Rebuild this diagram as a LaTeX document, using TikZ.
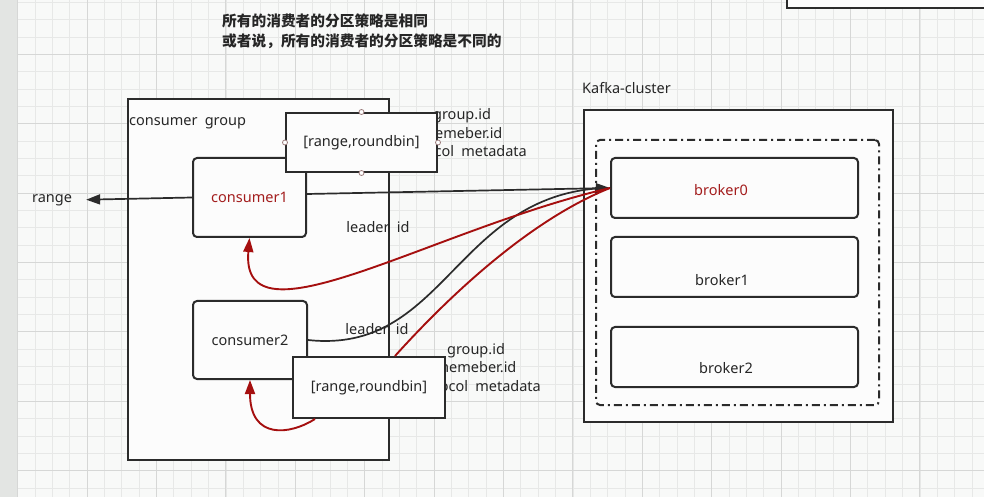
\documentclass[tikz,border=0pt]{standalone}
\usepackage{fontspec}
\setmainfont{Noto Sans}
\newfontfamily\cjk{Noto Sans CJK SC}
\usetikzlibrary{arrows.meta,calc}
\definecolor{bgc}{HTML}{F8F9F8}
\definecolor{bandc}{HTML}{E3E5E3}
\definecolor{gridminor}{HTML}{E7E8E7}
\definecolor{gridmajor}{HTML}{D6D7D6}
\definecolor{boxfill}{HTML}{FCFCFC}
\definecolor{linec}{HTML}{2B2B2B}
\definecolor{txt}{HTML}{262626}
\definecolor{darkred}{HTML}{A31D1D}
\definecolor{redline}{HTML}{A50F0F}
\definecolor{handlec}{HTML}{9B7B7B}
\newcommand{\wgap}{\hspace{0.5em}}
\begin{document}
\begin{tikzpicture}[x=1bp,y=-1bp,
  every node/.style={font=\fontsize{14.5bp}{18.5bp}\selectfont, text=txt},
  frame/.style={draw=linec, line width=2bp, fill=boxfill, inner sep=0pt},
  rbox/.style={frame, rounded corners=4bp},
  ddbox/.style={draw=linec, line width=2bp, rounded corners=4bp, inner sep=0pt,
    dash pattern=on 8bp off 4bp on 2bp off 4bp},
  lbl/.style={inner sep=0pt},
  handle/.style={circle, draw=handlec, fill=white, line width=0.8bp, minimum size=5bp, inner sep=0pt},
  minor/.style={draw=gridminor, line width=0.6bp},
  major/.style={draw=gridmajor, line width=0.7bp},
  blk/.style={draw=linec, line width=1.7bp},
  red/.style={draw=redline, line width=1.9bp},
  btip/.style={-{Triangle[length=14bp,width=10bp]}},
  rtip/.style={-{Triangle[length=14bp,width=10bp]}}
]
\useasboundingbox (0,0) rectangle (984,497);
% background
\fill[bgc] (0,0) rectangle (984,497);
\foreach \i in {0,...,54} \draw[minor] ({34.95+17.35*\i},0) -- ++(0,497);
\foreach \j in {0,...,28} \draw[minor] (17,{2.15+17.35*\j}) -- (984,{2.15+17.35*\j});
\foreach \i in {0,...,13} \draw[major] ({17.6+69.4*\i},0) -- ++(0,497);
\foreach \j in {0,...,6} \draw[major] (17,{54.2+69.4*\j}) -- (984,{54.2+69.4*\j});
\fill[bandc] (0,0) rectangle (17,497);

% partial box at top right
\node[frame, minimum width=208bp, minimum height=18bp] (tr) at (891,-1) {};

% Chinese heading
\node[lbl, anchor=west, font=\cjk\bfseries\fontsize{14.7bp}{17bp}\selectfont, text=black!85] (h1) at (222,21) {所有的消费者的分区策略是相同};
\node[lbl, anchor=west, font=\cjk\bfseries\fontsize{14.7bp}{17bp}\selectfont, text=black!85] (h2) at (222,41) {或者说，所有的消费者的分区策略是不同的};

% containers
\node[frame, minimum width=261bp, minimum height=361bp] (grp) at (258.5,279.5) {};
\node[lbl, anchor=west] (lgrp) at (129,123) {consumer\wgap group};
\node[frame, minimum width=309bp, minimum height=312bp] (kc) at (738.5,266) {};
\node[lbl, anchor=west] (lkc) at (582,88) {Kafka-cluster};
\node[ddbox, minimum width=283bp, minimum height=265bp] (dd) at (737.5,272.5) {};

% brokers
\node[rbox, minimum width=247bp, minimum height=60bp] (b0) at (734.5,188) {};
\node[rbox, minimum width=247bp, minimum height=60bp] (b1) at (734.5,267) {};
\node[rbox, minimum width=247bp, minimum height=60bp] (b2) at (734.5,357) {};
\node[lbl, text=darkred] (b0t) at (721,190) {broker0};
\node[lbl] (b1t) at (722,280) {broker1};
\node[lbl] (b2t) at (726,368) {broker2};

% consumers
\node[rbox, minimum width=113bp, minimum height=79bp, text=darkred] (c1) at (249.5,197.5) {consumer1};
\node[rbox, minimum width=114bp, minimum height=78bp] (c2) at (250,340) {consumer2};

% labels
\node[lbl] (ld1) at (378,227) {leader\wgap id};
\node[lbl] (ld2) at (377,329) {leader\wgap id};
\node[lbl, align=center] (m1) at (462,134.5) {group.id\\memeber.id\\protocol\wgap metadata};
\node[lbl, align=center] (m2) at (476,369) {group.id\\memeber.id\\protocol\wgap metadata};
\node[lbl] (rng) at (52,200) {range};

% strategy boxes
\node[frame, minimum width=151bp, minimum height=59bp] (tb) at (361.5,142.5) {[range,roundbin]};
\node[frame, minimum width=152bp, minimum height=61bp] (bb) at (369,387.5) {[range,roundbin]};
\node[handle] (hn) at (tb.north) {};
\node[handle] (hs) at (tb.south) {};
\node[handle] (hw) at (tb.west) {};
\node[handle] (he) at (tb.east) {};

% connectors
\draw[blk, btip, shorten >=14bp] (c1.west) -- (rng.east);
\draw[blk, btip] ([yshift=3.5bp]c1.east) -- (b0.west);
\draw[blk] (c2.east) .. controls (445,355) and (455,195) .. ([xshift=-6bp]b0.west);
\draw[red, rtip] (b0.west) .. controls (430,230) and (240,350) .. (c1.south);
\draw[red] ([xshift=26bp]bb.north) .. controls (450,295) and (530,220) .. (b0.west);
\draw[red, rtip] ([xshift=-54bp]bb.south) .. controls (290,435) and (250,440) .. (c2.south);
\end{tikzpicture}
\end{document}
